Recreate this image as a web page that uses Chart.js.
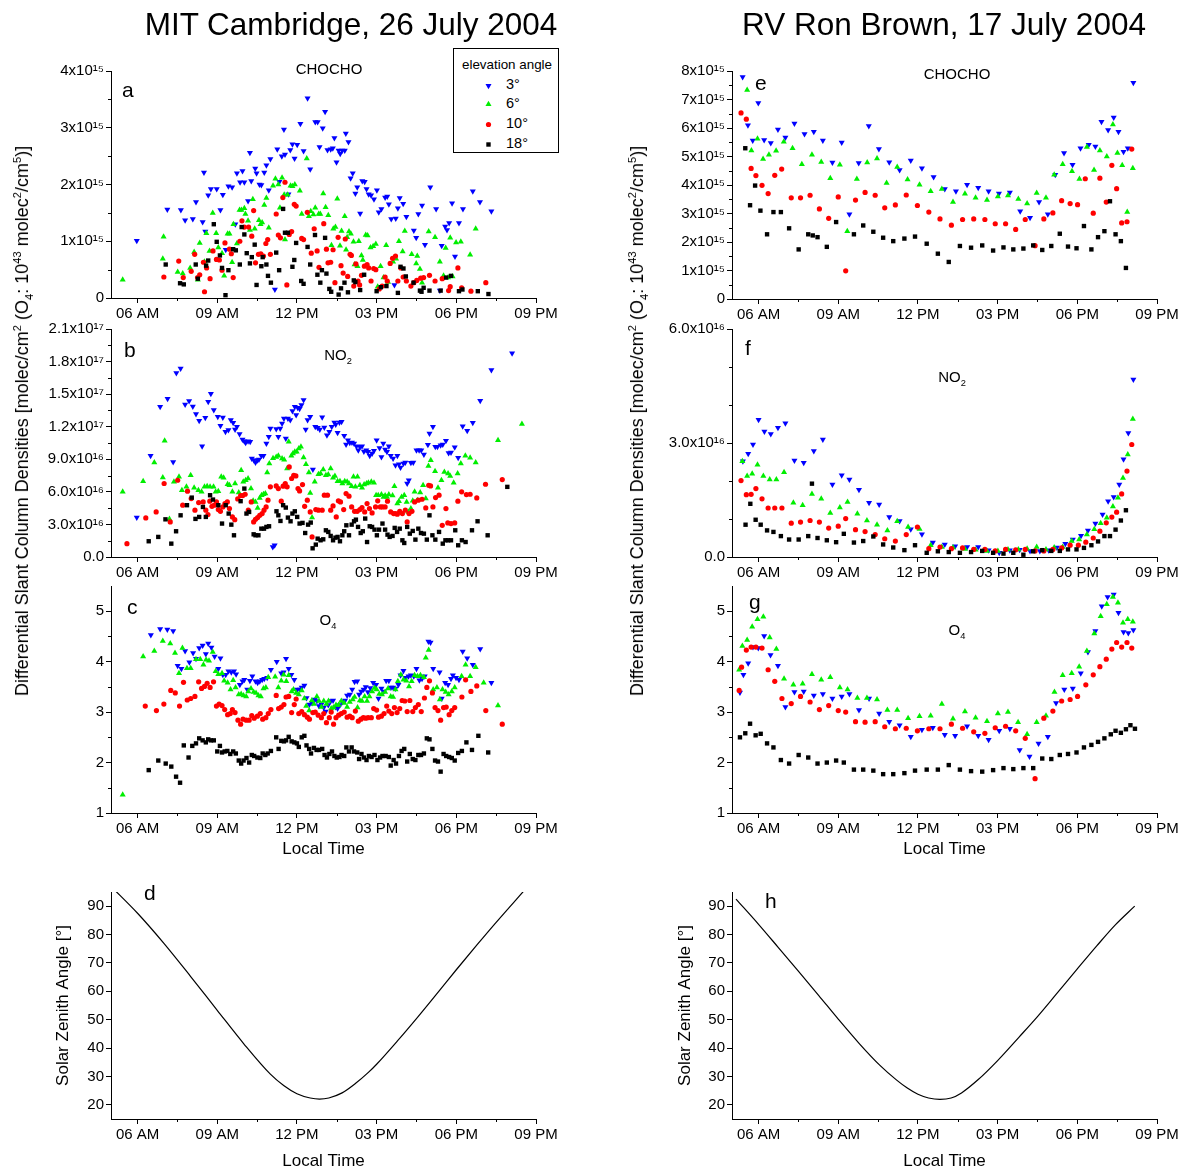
<!DOCTYPE html>
<html><head><meta charset="utf-8">
<script src="https://cdn.jsdelivr.net/npm/chart.js@4.4.1/dist/chart.umd.min.js"></script>
<style>
html,body{margin:0;padding:0;background:#fff;overflow:hidden;}
body{width:1182px;height:1168px;position:relative;font-family:"Liberation Sans",Arial,Helvetica,sans-serif;color:#000;}
canvas{position:absolute;}
.t{position:absolute;white-space:nowrap;line-height:1;}
.t sup,.t sub{font-size:62%;line-height:0;}
.rot{position:absolute;white-space:nowrap;line-height:1;transform:translate(-50%,-50%) rotate(-90deg);}
.rot sup,.rot sub{font-size:62%;line-height:0;}
</style></head><body>
<script>
// ---------- categories / tick labels ----------
const timeTicks = [6, 9, 12, 15, 18, 21];
const timeLabels = ['06 AM', '09 AM', '12 PM', '03 PM', '06 PM', '09 PM'];
const elevLabels = ['3°', '6°', '10°', '18°'];
const chochoMitTicks = [0, 1, 2, 3, 4];
const chochoMitLabels = ['0', '1x10¹⁵', '2x10¹⁵', '3x10¹⁵', '4x10¹⁵'];
const no2MitTicks = [0, 3, 6, 9, 12, 15, 18, 21];
const no2MitLabels = ['0.0', '3.0x10¹⁶', '6.0x10¹⁶', '9.0x10¹⁶', '1.2x10¹⁷', '1.5x10¹⁷', '1.8x10¹⁷', '2.1x10¹⁷'];
const o4Ticks = [1, 2, 3, 4, 5];
const o4Labels = ['1', '2', '3', '4', '5'];
const szaTicks = [20, 30, 40, 50, 60, 70, 80, 90];
const szaLabels = ['20', '30', '40', '50', '60', '70', '80', '90'];
const chochoRhbTicks = [0, 1, 2, 3, 4, 5, 6, 7, 8];
const chochoRhbLabels = ['0', '1x10¹⁵', '2x10¹⁵', '3x10¹⁵', '4x10¹⁵', '5x10¹⁵', '6x10¹⁵', '7x10¹⁵', '8x10¹⁵'];
const no2RhbTicks = [0, 3, 6];
const no2RhbLabels = ['0.0', '3.0x10¹⁶', '6.0x10¹⁶'];

// ---------- (a) CHOCHO, MIT, units 1e15 molec/cm2 ----------
const A3 = [[5.97,1.01],[7.12,1.56],[7.63,1.55],[7.79,1.37],[8.08,1.39],[8.2,1.69],[8.45,1.34],[8.5,2.21],[8.55,1.17],[8.66,1.81],[8.76,1.92],[8.98,1.92],[9.12,1.55],[9.21,1.82],[9.32,0.85],[9.42,1.97],[9.56,1.95],[9.68,1.3],[9.74,2.2],[9.86,2.04],[9.95,2.24],[10.02,2.04],[10.16,1.71],[10.23,2.56],[10.28,2.06],[10.43,2.28],[10.48,2.2],[10.59,2.0],[10.66,1.99],[10.77,2.21],[10.85,2.34],[10.94,1.9],[11.0,2.45],[11.17,0.15],[11.26,2.62],[11.34,2.05],[11.43,2.5],[11.51,2.97],[11.55,2.53],[11.68,1.83],[11.75,2.61],[11.83,2.71],[11.91,2.46],[12.01,2.7],[12.13,3.07],[12.25,2.59],[12.4,3.52],[12.5,2.27],[12.69,3.1],[12.78,3.1],[12.85,2.66],[12.97,2.99],[13.06,3.28],[13.15,2.61],[13.27,2.62],[13.35,2.64],[13.41,2.82],[13.49,2.39],[13.57,2.6],[13.63,2.54],[13.7,2.6],[13.8,2.6],[13.84,2.9],[13.94,2.75],[14.02,2.11],[14.1,2.2],[14.2,1.84],[14.27,1.95],[14.38,1.49],[14.46,2.06],[14.55,2.05],[14.62,1.92],[14.7,1.83],[14.79,1.81],[14.9,1.74],[15.01,1.9],[15.08,1.51],[15.18,1.57],[15.32,1.77],[15.4,1.79],[15.46,1.65],[15.55,1.39],[15.67,0.23],[15.72,1.4],[15.8,1.58],[15.87,1.76],[16.0,1.66],[16.12,1.43],[16.4,1.19],[16.49,1.06],[16.57,1.48],[16.71,1.63],[16.82,0.94],[17.02,1.95],[17.24,1.57],[17.38,0.13],[17.45,0.92],[17.58,1.26],[17.65,1.2],[17.73,1.32],[17.84,1.67],[17.95,0.73],[18.1,1.32],[18.25,1.57],[18.62,1.88],[18.89,1.69],[19.32,1.53]];
const A6 = [[5.44,0.32],[6.95,0.69],[6.98,1.08],[7.51,0.46],[7.7,0.43],[7.98,0.53],[8.13,0.81],[8.27,0.32],[8.34,0.97],[8.52,0.64],[8.59,1.14],[8.71,0.83],[8.83,1.5],[8.96,1.14],[9.04,0.89],[9.18,0.79],[9.26,0.39],[9.39,1.13],[9.46,1.13],[9.56,0.63],[9.61,1.3],[9.74,0.96],[9.84,1.55],[9.91,1.55],[10.02,1.58],[10.06,1.48],[10.16,1.36],[10.23,1.2],[10.34,1.74],[10.41,1.22],[10.57,1.37],[10.63,1.3],[10.69,1.33],[10.77,1.64],[10.85,1.76],[10.94,1.24],[11.1,1.98],[11.19,2.1],[11.3,2.0],[11.36,1.59],[11.44,2.12],[11.52,1.82],[11.55,1.03],[11.65,1.82],[11.76,1.98],[11.83,1.97],[11.92,2.0],[12.11,1.89],[12.18,1.48],[12.37,2.46],[12.45,1.44],[12.52,1.53],[12.62,1.47],[12.69,1.59],[12.82,1.48],[12.88,1.48],[12.99,1.84],[13.08,1.6],[13.18,1.46],[13.3,0.93],[13.37,1.22],[13.45,1.25],[13.52,1.75],[13.62,0.92],[13.68,1.18],[13.8,1.44],[13.85,0.85],[13.89,1.07],[13.96,1.17],[14.03,1.13],[14.13,0.99],[14.17,0.59],[14.28,0.56],[14.33,1.0],[14.43,0.75],[14.48,0.67],[14.59,1.11],[14.66,1.1],[14.77,0.89],[14.87,0.91],[14.97,0.95],[15.04,0.2],[15.15,0.56],[15.26,0.36],[15.36,0.93],[15.43,0.28],[15.62,0.64],[15.73,0.69],[15.84,1.0],[15.98,0.82],[16.06,1.18],[16.32,0.77],[16.49,0.61],[16.53,0.74],[16.63,0.51],[16.71,0.27],[16.96,1.17],[17.2,1.07],[17.38,0.64],[17.52,0.39],[17.6,0.88],[17.69,0.36],[17.77,1.06],[17.86,0.38],[17.99,0.98],[18.17,0.99],[18.52,0.76],[18.73,1.22]];
const A10 = [[6.99,0.37],[7.55,0.65],[7.72,0.36],[8.02,0.47],[8.15,0.77],[8.26,0.36],[8.34,0.41],[8.48,0.63],[8.52,0.11],[8.6,0.53],[8.73,0.34],[8.84,0.83],[8.97,0.68],[9.08,0.67],[9.18,0.49],[9.29,0.97],[9.46,0.86],[9.53,0.78],[9.6,0.36],[9.85,1.0],[9.93,1.36],[10.02,1.25],[10.18,1.25],[10.3,1.09],[10.37,1.54],[10.44,0.62],[10.55,0.77],[10.64,0.78],[10.74,0.74],[10.83,0.96],[10.9,1.03],[11.0,0.77],[11.22,1.48],[11.3,1.11],[11.38,1.06],[11.47,1.77],[11.55,2.04],[11.62,0.23],[11.71,1.12],[11.8,1.17],[11.9,1.65],[11.97,1.62],[12.18,1.05],[12.25,1.03],[12.39,1.51],[12.54,0.79],[12.65,1.22],[12.76,0.83],[12.83,0.54],[13.01,1.31],[13.11,0.86],[13.17,0.62],[13.27,0.63],[13.36,0.85],[13.43,0.27],[13.55,1.07],[13.66,0.57],[13.74,0.44],[13.82,1.04],[13.91,0.38],[14.0,0.77],[14.05,0.75],[14.14,0.21],[14.22,0.6],[14.3,0.3],[14.36,0.23],[14.43,0.4],[14.54,0.56],[14.64,0.59],[14.7,0.53],[14.79,0.3],[14.89,0.52],[14.97,0.5],[15.1,0.16],[15.21,0.21],[15.32,0.37],[15.4,0.3],[15.51,0.61],[15.6,0.7],[15.71,0.74],[15.8,0.3],[15.91,0.53],[16.0,0.37],[16.12,0.3],[16.29,0.21],[16.4,0.27],[16.51,0.31],[16.66,0.35],[16.77,0.36],[16.99,0.4],[17.2,0.3],[17.47,0.34],[17.71,0.13],[17.77,0.2],[18.06,0.53],[18.2,0.18],[18.55,0.12],[19.11,0.27]];
const A18 = [[7.06,0.59],[7.6,0.26],[7.74,0.24],[8.19,0.59],[8.27,0.34],[8.58,0.57],[8.66,0.66],[8.87,1.3],[8.98,0.99],[9.1,0.75],[9.18,0.53],[9.31,0.05],[9.42,0.49],[9.6,0.86],[9.7,0.84],[9.85,0.59],[9.92,1.25],[10.02,1.12],[10.11,0.79],[10.23,0.61],[10.3,0.72],[10.41,0.94],[10.48,0.23],[10.66,0.56],[10.71,0.72],[10.85,0.59],[10.91,0.39],[11.02,0.27],[11.22,0.8],[11.33,0.49],[11.48,1.57],[11.55,1.15],[11.66,1.15],[11.83,0.55],[11.9,0.67],[11.97,0.97],[12.16,0.3],[12.25,0.25],[12.4,0.9],[12.5,0.59],[12.68,1.11],[12.77,0.41],[12.88,0.27],[12.94,0.49],[13.06,1.06],[13.11,0.43],[13.22,0.16],[13.29,0.11],[13.57,0.06],[13.66,0.17],[13.79,0.27],[13.92,0.1],[14.14,0.31],[14.2,0.28],[14.38,0.14],[14.53,0.41],[15.0,0.12],[15.16,0.19],[15.37,0.21],[15.8,0.09],[15.9,0.55],[16.01,0.52],[16.1,0.38],[16.39,0.27],[16.63,0.13],[16.69,0.11],[16.77,0.18],[16.99,0.13],[17.41,0.13],[17.62,0.36],[17.8,0.39],[18.1,0.12],[18.23,0.15],[18.81,0.12],[19.21,0.07]];

// ---------- (b) NO2, MIT, units 1e16 molec/cm2 ----------
const B3 = [[5.97,3.63],[6.49,9.32],[6.85,13.84],[7.13,14.58],[7.34,8.76],[7.46,16.94],[7.62,17.37],[7.79,14.05],[7.94,14.36],[8.08,13.87],[8.2,13.16],[8.32,12.55],[8.43,10.21],[8.55,12.82],[8.66,14.3],[8.76,15.04],[8.87,13.53],[9.02,12.91],[9.12,12.08],[9.21,12.85],[9.31,11.53],[9.42,11.69],[9.51,12.61],[9.6,12.36],[9.67,11.75],[9.74,11.99],[9.84,11.32],[9.95,10.82],[10.02,10.67],[10.07,10.52],[10.16,10.67],[10.24,10.61],[10.3,9.07],[10.38,8.92],[10.44,8.7],[10.51,8.92],[10.57,8.98],[10.66,9.32],[10.74,9.32],[10.85,10.46],[10.94,11.07],[11.0,11.84],[11.09,0.92],[11.16,1.08],[11.22,11.78],[11.3,11.07],[11.37,11.84],[11.44,12.3],[11.51,12.76],[11.58,10.92],[11.66,12.76],[11.75,12.61],[11.83,13.44],[11.92,13.84],[11.97,13.07],[12.03,13.75],[12.1,13.65],[12.17,13.99],[12.25,14.45],[12.33,11.75],[12.4,12.61],[12.5,12.91],[12.6,8.06],[12.69,11.99],[12.78,11.9],[12.86,11.75],[12.95,12.88],[13.03,11.93],[13.13,11.22],[13.22,11.53],[13.31,11.99],[13.41,12.39],[13.46,12.21],[13.53,11.44],[13.6,12.39],[13.68,12.45],[13.78,11.16],[13.85,10.36],[13.92,10.76],[13.99,10.52],[14.07,10.55],[14.15,10.46],[14.24,10.21],[14.31,9.84],[14.37,10.15],[14.45,10.21],[14.52,9.72],[14.61,9.84],[14.68,9.69],[14.74,9.32],[14.83,9.53],[14.9,9.78],[15.0,10.76],[15.11,10.05],[15.18,9.22],[15.25,10.46],[15.32,9.9],[15.39,9.69],[15.46,10.21],[15.53,9.32],[15.62,9.07],[15.71,8.46],[15.78,9.32],[15.84,8.55],[15.9,8.24],[16.01,8.61],[16.08,8.7],[16.15,6.77],[16.21,7.07],[16.29,8.67],[16.38,8.7],[16.5,9.84],[16.6,9.84],[16.68,9.84],[16.78,9.44],[16.93,10.33],[16.99,11.38],[17.12,11.99],[17.21,10.15],[17.29,10.15],[17.41,10.3],[17.49,10.36],[17.61,10.7],[17.71,9.59],[17.8,9.63],[17.94,10.12],[18.07,9.13],[18.24,12.05],[18.41,11.62],[18.62,12.36],[18.9,14.39],[19.32,17.22],[20.1,18.76]];
const B6 = [[5.44,6.0],[6.21,6.98],[6.63,8.7],[6.95,7.32],[7.02,10.7],[7.2,3.51],[7.37,6.92],[7.56,7.38],[7.67,6.15],[7.84,6.46],[8.0,7.53],[8.13,6.37],[8.29,6.15],[8.41,6.0],[8.52,6.46],[8.62,6.52],[8.73,6.46],[8.86,6.46],[8.94,6.0],[9.04,6.06],[9.15,7.38],[9.24,7.29],[9.39,6.7],[9.46,6.61],[9.57,6.0],[9.67,6.77],[9.81,5.93],[9.9,8.0],[9.98,6.92],[10.07,7.07],[10.16,7.23],[10.27,6.3],[10.35,5.17],[10.44,5.07],[10.52,4.52],[10.6,5.44],[10.67,5.69],[10.74,5.78],[10.81,5.84],[10.88,7.78],[10.96,8.61],[11.1,9.1],[11.22,9.22],[11.3,9.32],[11.44,9.07],[11.52,8.95],[11.63,8.15],[11.69,10.61],[11.79,9.32],[11.85,9.53],[11.92,9.69],[11.99,9.69],[12.07,9.99],[12.15,10.15],[12.25,9.16],[12.34,8.55],[12.45,7.78],[12.5,5.9],[12.57,3.63],[12.67,6.92],[12.81,7.63],[12.89,7.69],[12.99,8.06],[13.09,7.53],[13.18,7.6],[13.27,8.15],[13.36,7.29],[13.43,7.47],[13.53,6.98],[13.62,6.98],[13.71,6.77],[13.8,6.98],[13.89,6.92],[13.96,6.77],[14.06,6.52],[14.13,7.38],[14.2,6.46],[14.28,7.38],[14.37,6.61],[14.45,6.37],[14.53,6.67],[14.62,6.77],[14.69,6.83],[14.8,6.92],[14.9,6.83],[14.98,5.69],[15.06,5.69],[15.18,5.75],[15.26,5.53],[15.32,5.66],[15.39,5.53],[15.46,5.75],[15.6,5.66],[15.67,6.52],[15.78,4.92],[15.84,5.14],[15.94,5.53],[16.04,5.69],[16.13,5.07],[16.2,4.15],[16.29,4.46],[16.36,5.17],[16.43,6.0],[16.53,5.23],[16.64,5.93],[16.75,6.61],[16.85,5.38],[16.95,8.39],[17.04,8.92],[17.2,7.9],[17.31,6.37],[17.44,7.07],[17.55,7.84],[17.69,7.69],[17.77,7.47],[17.9,6.83],[18.05,7.69],[18.17,8.61],[18.34,9.32],[18.52,9.13],[18.73,8.7],[19.57,10.76],[20.47,12.24]];
const B10 = [[5.6,1.23],[6.31,3.6],[6.7,4.15],[7.0,6.77],[7.23,3.23],[7.51,7.07],[7.7,4.77],[7.88,6.06],[8.02,5.38],[8.16,4.31],[8.3,5.01],[8.47,5.07],[8.57,4.31],[8.65,3.91],[8.72,5.14],[8.8,4.67],[8.89,4.77],[8.97,5.07],[9.04,4.37],[9.12,4.21],[9.21,4.61],[9.29,4.92],[9.38,5.07],[9.46,4.46],[9.57,3.69],[9.66,3.44],[9.77,5.35],[9.88,5.66],[9.96,5.66],[10.05,5.78],[10.17,4.31],[10.28,5.07],[10.37,3.23],[10.44,3.47],[10.52,3.63],[10.6,3.84],[10.69,4.0],[10.76,4.31],[10.84,4.61],[10.91,5.23],[11.0,6.46],[11.22,6.55],[11.3,6.3],[11.41,5.14],[11.48,6.52],[11.56,6.77],[11.63,6.46],[11.71,8.3],[11.8,7.23],[11.88,7.53],[11.96,7.47],[12.04,6.3],[12.1,6.09],[12.21,6.67],[12.29,4.67],[12.39,5.23],[12.5,4.15],[12.57,1.85],[12.71,4.37],[12.81,4.31],[12.95,4.31],[13.03,5.69],[13.15,5.69],[13.27,4.31],[13.36,4.7],[13.48,3.69],[13.56,5.17],[13.64,5.07],[13.76,4.37],[13.85,5.84],[13.96,5.6],[14.06,4.61],[14.17,4.21],[14.27,4.21],[14.37,4.37],[14.45,4.55],[14.55,4.15],[14.64,4.92],[14.73,4.46],[14.83,4.06],[14.96,4.61],[15.04,5.17],[15.14,4.61],[15.22,4.61],[15.32,4.61],[15.41,5.14],[15.53,4.15],[15.64,4.0],[15.71,4.0],[15.78,3.94],[15.87,4.21],[15.97,4.0],[16.08,4.31],[16.15,3.23],[16.22,4.0],[16.33,4.21],[16.43,5.07],[16.57,5.23],[16.71,5.32],[16.85,4.52],[16.96,6.61],[17.03,6.55],[17.12,4.61],[17.22,5.47],[17.35,5.69],[17.47,2.92],[17.61,4.46],[17.68,3.14],[17.8,3.08],[17.94,3.14],[18.06,5.14],[18.2,6.0],[18.38,5.75],[18.52,5.78],[18.77,5.44],[19.1,6.7],[19.73,7.13]];
const B18 = [[6.42,1.45],[6.78,1.85],[7.05,3.47],[7.27,1.23],[7.45,2.37],[7.62,3.84],[7.86,4.77],[8.04,5.47],[8.18,3.51],[8.32,3.69],[8.46,4.61],[8.57,3.69],[8.73,5.69],[8.84,5.29],[9.04,4.77],[9.18,3.08],[9.32,4.77],[9.43,4.0],[9.53,2.98],[9.63,2.0],[9.88,5.14],[10.02,6.3],[10.1,4.0],[10.2,4.15],[10.37,2.09],[10.44,2.0],[10.55,2.0],[10.66,2.61],[10.76,2.61],[10.85,2.77],[10.95,2.83],[11.23,4.21],[11.3,3.84],[11.38,3.32],[11.48,4.77],[11.58,4.55],[11.66,3.63],[11.76,3.29],[11.83,4.0],[11.92,4.21],[12.01,3.69],[12.1,3.08],[12.21,3.14],[12.31,2.21],[12.42,2.98],[12.52,3.17],[12.59,0.8],[12.71,1.14],[12.78,1.69],[12.89,1.54],[12.99,1.63],[13.09,2.46],[13.18,2.31],[13.27,1.94],[13.36,1.54],[13.45,1.78],[13.53,1.85],[13.62,1.45],[13.71,2.0],[13.78,2.37],[13.86,2.92],[13.96,2.0],[14.06,2.98],[14.15,3.29],[14.22,3.44],[14.3,2.77],[14.4,2.21],[14.48,2.37],[14.57,3.54],[14.64,1.38],[14.74,2.83],[14.83,2.77],[14.92,2.52],[15.01,2.0],[15.09,2.52],[15.22,3.08],[15.32,2.52],[15.41,2.06],[15.49,1.85],[15.6,1.94],[15.68,2.68],[15.77,2.31],[15.87,2.61],[15.97,1.54],[16.04,1.29],[16.15,2.77],[16.25,2.15],[16.36,2.4],[16.46,1.6],[16.57,2.61],[16.67,2.21],[16.78,2.15],[16.89,1.6],[16.99,3.84],[17.1,2.0],[17.21,1.6],[17.35,2.31],[17.49,1.23],[17.59,1.54],[17.69,1.54],[17.8,1.54],[17.96,2.46],[18.07,1.08],[18.21,1.54],[18.35,1.38],[18.59,2.46],[18.8,3.29],[19.18,2.0],[19.92,6.46]];

// ---------- (c) O4, MIT, units 1e43 molec2/cm5 ----------
const C3 = [[6.5,4.53],[6.85,4.65],[7.12,4.64],[7.34,4.61],[7.51,3.92],[7.65,3.86],[7.79,4.21],[7.95,3.99],[8.09,4.17],[8.2,4.06],[8.32,4.27],[8.45,4.32],[8.57,4.15],[8.66,4.36],[8.78,4.28],[8.9,4.1],[9.04,3.86],[9.12,4.07],[9.21,3.74],[9.32,3.74],[9.42,3.81],[9.53,3.79],[9.63,3.81],[9.71,3.75],[9.85,3.54],[9.95,3.61],[10.02,3.64],[10.13,3.45],[10.23,3.62],[10.32,3.71],[10.44,3.61],[10.52,3.58],[10.6,3.61],[10.69,3.64],[10.77,3.66],[10.88,3.68],[11.02,3.84],[11.24,4.0],[11.41,3.77],[11.5,3.79],[11.59,4.06],[11.69,3.86],[11.79,3.74],[11.9,3.64],[12.01,3.45],[12.11,3.45],[12.18,3.49],[12.28,3.53],[12.36,3.28],[12.47,3.15],[12.57,3.18],[12.67,3.25],[12.75,3.22],[12.83,3.12],[12.92,3.15],[13.01,3.09],[13.08,3.01],[13.18,3.14],[13.27,3.22],[13.36,3.23],[13.45,3.1],[13.53,3.07],[13.62,3.14],[13.71,3.2],[13.81,3.23],[13.89,3.33],[13.99,3.35],[14.08,3.45],[14.17,3.6],[14.27,3.61],[14.34,3.35],[14.42,3.41],[14.51,3.45],[14.59,3.5],[14.67,3.4],[14.76,3.48],[14.87,3.58],[14.98,3.54],[15.07,3.27],[15.18,3.47],[15.27,3.41],[15.36,3.62],[15.46,3.62],[15.54,3.49],[15.62,3.49],[15.71,3.47],[15.82,3.54],[15.9,3.73],[16.01,3.82],[16.1,3.68],[16.2,3.71],[16.29,3.73],[16.4,3.71],[16.5,3.86],[16.61,3.63],[16.71,3.66],[16.81,3.71],[16.95,4.4],[17.03,4.38],[17.13,3.86],[17.37,3.79],[17.45,3.27],[17.58,3.58],[17.69,3.54],[17.8,3.66],[17.87,3.73],[17.99,3.68],[18.1,3.64],[18.24,4.2],[18.41,4.07],[18.62,3.94],[18.9,4.25],[19.32,3.58]];
const C6 = [[5.44,1.36],[6.21,4.1],[6.63,4.21],[6.95,4.41],[7.23,4.36],[7.41,4.17],[7.56,3.77],[7.69,4.27],[7.86,3.87],[8.0,3.87],[8.2,4.05],[8.36,4.05],[8.48,3.94],[8.58,4.04],[8.69,4.02],[8.83,4.19],[8.94,3.81],[9.04,3.75],[9.18,3.77],[9.26,3.62],[9.39,3.58],[9.5,3.45],[9.6,3.63],[9.69,3.49],[9.81,3.35],[9.9,3.36],[9.99,3.33],[10.09,3.31],[10.17,3.41],[10.27,3.47],[10.37,3.4],[10.46,3.38],[10.55,3.33],[10.64,3.31],[10.74,3.47],[10.83,3.49],[10.92,3.69],[11.18,3.7],[11.3,3.49],[11.41,3.62],[11.5,3.74],[11.6,3.61],[11.69,3.73],[11.8,3.41],[11.87,3.45],[11.97,3.38],[12.07,3.35],[12.18,3.43],[12.28,3.27],[12.35,3.12],[12.46,3.03],[12.56,3.23],[12.64,3.16],[12.75,3.31],[12.83,3.22],[12.92,3.1],[13.01,3.22],[13.11,3.16],[13.19,3.22],[13.29,3.07],[13.38,3.09],[13.47,3.14],[13.57,3.14],[13.67,3.22],[13.78,3.18],[13.89,3.1],[13.99,3.2],[14.1,3.25],[14.17,3.3],[14.28,3.09],[14.37,3.23],[14.45,3.22],[14.55,3.31],[14.64,3.22],[14.73,3.31],[14.83,3.41],[14.92,3.48],[15.0,3.45],[15.1,3.36],[15.2,3.35],[15.32,3.4],[15.43,3.47],[15.53,3.31],[15.62,3.3],[15.71,3.45],[15.8,3.61],[15.91,3.74],[16.01,3.64],[16.12,3.62],[16.22,3.51],[16.32,3.61],[16.43,3.73],[16.54,3.71],[16.65,3.73],[16.78,3.69],[16.85,4.08],[16.96,4.23],[17.13,3.45],[17.27,3.49],[17.38,3.25],[17.48,3.45],[17.6,3.4],[17.71,3.35],[17.83,3.41],[17.94,3.49],[18.2,3.71],[18.35,3.94],[18.52,3.71],[18.73,3.89],[19.03,3.58],[19.57,3.13]];
const C10 = [[6.29,3.12],[6.71,3.03],[6.99,3.16],[7.25,3.43],[7.42,3.38],[7.58,3.12],[7.73,3.59],[7.87,3.24],[8.0,3.27],[8.16,3.31],[8.3,3.6],[8.41,3.47],[8.52,3.51],[8.62,3.57],[8.73,3.49],[8.86,3.6],[8.97,3.12],[9.07,3.16],[9.18,3.13],[9.28,3.05],[9.39,2.95],[9.49,2.97],[9.57,3.05],[9.67,2.99],[9.78,2.84],[9.88,2.76],[9.97,2.86],[10.09,2.84],[10.2,2.84],[10.3,2.93],[10.39,2.88],[10.51,2.92],[10.62,2.97],[10.71,2.86],[10.83,2.89],[10.92,2.97],[11.02,3.05],[11.22,3.33],[11.31,3.07],[11.41,3.1],[11.51,3.15],[11.59,3.3],[11.69,3.31],[11.8,2.99],[11.9,3.15],[11.97,3.26],[12.07,2.97],[12.18,3.01],[12.28,2.95],[12.39,2.9],[12.47,2.86],[12.6,2.99],[12.69,3.0],[12.8,2.94],[12.92,2.89],[13.01,2.97],[13.11,2.79],[13.22,2.89],[13.29,3.0],[13.38,2.76],[13.47,2.89],[13.57,2.94],[13.67,2.97],[13.78,3.0],[13.89,2.9],[13.99,2.92],[14.08,2.89],[14.2,3.02],[14.31,2.82],[14.41,2.86],[14.5,2.89],[14.59,2.88],[14.68,2.89],[14.8,2.89],[14.89,3.07],[15.0,3.04],[15.07,2.9],[15.18,2.92],[15.28,2.97],[15.38,3.12],[15.46,3.02],[15.57,2.97],[15.67,3.09],[15.77,2.99],[15.87,3.07],[15.96,3.23],[16.06,3.22],[16.15,3.01],[16.25,3.23],[16.36,3.01],[16.46,3.09],[16.57,3.15],[16.68,3.01],[16.8,3.28],[16.89,3.49],[16.99,3.62],[17.1,3.38],[17.2,3.09],[17.31,3.03],[17.41,2.84],[17.52,3.09],[17.62,3.1],[17.73,2.95],[17.83,3.03],[17.94,3.09],[18.21,3.3],[18.35,3.64],[18.55,3.41],[18.77,3.52],[19.11,3.03],[19.73,2.76]];
const C18 = [[6.42,1.85],[6.78,2.04],[7.06,1.98],[7.27,1.92],[7.45,1.72],[7.6,1.6],[7.74,2.34],[7.92,2.1],[8.06,2.33],[8.2,2.38],[8.32,2.48],[8.45,2.44],[8.57,2.4],[8.66,2.46],[8.76,2.44],[8.87,2.44],[9.0,2.22],[9.1,2.33],[9.18,2.2],[9.28,2.22],[9.38,2.23],[9.49,2.17],[9.6,2.22],[9.7,2.18],[9.81,2.04],[9.9,1.98],[9.99,2.04],[10.1,2.09],[10.2,2.0],[10.3,2.15],[10.39,2.13],[10.51,2.1],[10.62,2.09],[10.71,2.18],[10.81,2.15],[10.9,2.18],[11.02,2.23],[11.22,2.5],[11.31,2.27],[11.41,2.43],[11.51,2.42],[11.59,2.44],[11.69,2.51],[11.8,2.42],[11.9,2.4],[12.0,2.38],[12.07,2.31],[12.18,2.5],[12.28,2.53],[12.36,2.34],[12.46,2.27],[12.53,2.18],[12.64,2.29],[12.74,2.25],[12.83,2.25],[12.95,2.27],[13.04,2.15],[13.13,2.1],[13.22,2.17],[13.32,2.22],[13.41,2.13],[13.5,2.1],[13.6,2.11],[13.68,2.15],[13.78,2.13],[13.86,2.3],[13.96,2.22],[14.06,2.3],[14.15,2.22],[14.27,2.2],[14.34,2.07],[14.43,2.17],[14.52,2.1],[14.62,2.05],[14.71,2.13],[14.81,2.11],[14.92,2.15],[15.03,2.05],[15.13,2.1],[15.22,2.13],[15.34,2.13],[15.46,2.11],[15.53,1.94],[15.64,2.05],[15.73,1.98],[15.84,2.13],[15.94,2.23],[16.04,2.27],[16.15,2.02],[16.25,2.17],[16.36,2.07],[16.46,2.05],[16.57,2.15],[16.67,2.15],[16.78,2.18],[16.89,2.48],[16.99,2.46],[17.1,2.27],[17.2,2.04],[17.31,2.02],[17.41,1.82],[17.52,2.17],[17.62,2.13],[17.73,2.11],[17.83,2.09],[17.94,2.04],[18.07,2.19],[18.21,2.23],[18.38,2.4],[18.59,2.25],[18.83,2.53],[19.2,2.2]];

// ---------- (d) solar zenith angle, MIT (degrees) ----------
const SZA_MIT = [[5.05,96.5],[6,87.5],[7,76.8],[8,65.2],[9,53.3],[10,41.5],[11,30.8],[11.5,26.8],[12,23.9],[12.5,22.4],[12.85,22.0],[13.2,22.4],[13.7,24.2],[14.2,27.5],[14.7,31.5],[15.0,34.3],[15.8,42.7],[16.57,51.2],[17.34,60.0],[18.0,67.6],[18.8,76.6],[19.5,84.3],[20.62,96.2]];

// ---------- (e) CHOCHO, RV Ron Brown, units 1e15 ----------
const E3 = [[5.4,7.79],[5.6,6.1],[5.78,5.56],[5.99,6.88],[6.21,5.58],[6.46,5.47],[6.73,5.95],[7.01,5.67],[7.35,6.16],[7.73,5.79],[8.08,5.87],[8.42,5.56],[8.78,4.79],[9.13,5.49],[9.42,2.97],[9.77,4.77],[10.15,6.07],[10.53,5.26],[10.92,4.8],[11.31,4.53],[11.73,4.86],[12.15,4.59],[12.59,4.28],[13.01,3.86],[13.43,3.78],[13.85,4.01],[14.27,3.9],[14.66,3.78],[15.05,3.7],[15.46,3.74],[15.85,3.08],[16.22,2.85],[16.56,3.4],[16.89,2.97],[17.17,4.36],[17.5,5.12],[17.82,4.71],[18.12,5.29],[18.43,5.41],[18.68,5.35],[18.91,6.22],[19.16,5.93],[19.37,6.37],[19.55,5.87],[19.74,5.17],[19.9,5.29],[20.11,7.59]];
const E6 = [[5.57,7.33],[5.73,5.21],[5.96,5.62],[6.17,4.91],[6.39,5.06],[6.66,5.2],[6.95,5.52],[7.28,5.29],[7.63,4.73],[8.01,5.06],[8.36,4.81],[8.7,4.24],[9.06,4.71],[9.34,2.38],[9.7,4.21],[10.09,4.79],[10.46,4.93],[10.82,4.07],[11.22,4.63],[11.61,4.19],[12.06,4.01],[12.48,3.78],[12.9,3.86],[13.32,3.4],[13.77,3.69],[14.17,3.55],[14.6,3.47],[15.01,3.6],[15.39,3.63],[15.78,3.51],[16.11,3.35],[16.47,3.72],[16.82,3.55],[17.13,4.36],[17.45,4.73],[17.8,4.48],[18.08,4.21],[18.36,5.33],[18.63,4.53],[18.85,5.21],[19.11,5.0],[19.34,6.12],[19.51,5.12],[19.69,4.69],[19.88,3.05],[20.09,4.59]];
const E10 = [[5.34,6.53],[5.54,6.31],[5.72,4.58],[5.9,4.33],[6.13,3.99],[6.36,3.7],[6.61,4.34],[6.87,4.56],[7.23,3.55],[7.58,3.55],[7.94,3.64],[8.29,3.16],[8.64,2.83],[9.0,3.58],[9.28,0.99],[9.65,3.47],[10.01,3.74],[10.39,3.64],[10.75,3.2],[11.15,3.3],[11.56,3.65],[11.98,3.28],[12.41,3.05],[12.83,2.81],[13.26,2.59],[13.68,2.79],[14.1,2.81],[14.52,2.79],[14.91,2.64],[15.3,2.64],[15.68,2.44],[16.04,2.79],[16.41,1.87],[16.74,2.81],[17.08,3.02],[17.41,3.45],[17.73,3.35],[18.01,3.31],[18.3,4.22],[18.6,3.01],[18.85,4.24],[19.09,3.4],[19.3,4.69],[19.48,3.87],[19.67,2.67],[19.87,2.71],[20.05,5.26]];
const E18 = [[5.5,5.29],[5.68,3.29],[5.87,3.98],[6.07,3.1],[6.32,2.27],[6.56,3.05],[6.84,3.05],[7.15,2.48],[7.51,1.74],[7.87,2.27],[8.04,2.23],[8.22,2.17],[8.57,1.83],[8.92,2.7],[9.59,2.27],[9.94,2.58],[10.32,2.36],[10.69,2.15],[11.07,2.03],[11.49,2.12],[11.89,2.19],[12.33,1.94],[12.75,1.59],[13.16,1.3],[13.58,1.86],[14.0,1.8],[14.42,1.88],[14.83,1.7],[15.22,1.81],[15.59,1.74],[15.97,1.77],[16.34,1.88],[16.68,1.72],[17.02,1.86],[17.34,2.29],[17.65,1.84],[17.97,1.78],[18.25,2.56],[18.53,1.74],[18.78,2.17],[19.02,2.38],[19.23,3.43],[19.44,2.27],[19.64,2.03],[19.83,1.09]];

// ---------- (f) NO2, RV Ron Brown, units 1e16 ----------
const F3 = [[5.41,2.52],[5.61,2.72],[5.79,2.96],[6.0,3.61],[6.22,3.3],[6.46,3.24],[6.73,3.4],[7.01,3.52],[7.35,2.54],[7.7,2.48],[8.08,2.79],[8.42,3.09],[8.78,1.91],[9.13,2.15],[9.42,2.04],[9.78,1.77],[10.16,1.43],[10.54,1.38],[10.92,1.05],[11.31,0.95],[11.73,0.73],[12.15,0.6],[12.56,0.38],[13.01,0.33],[13.4,0.28],[13.85,0.26],[14.27,0.26],[14.66,0.18],[15.06,0.11],[15.46,0.18],[15.83,0.19],[16.22,0.16],[16.59,0.16],[16.92,0.18],[17.23,0.25],[17.55,0.35],[17.83,0.46],[18.14,0.56],[18.4,0.7],[18.68,0.88],[18.95,1.12],[19.16,1.47],[19.37,1.58],[19.58,1.91],[19.74,2.57],[19.92,3.26],[20.11,4.67]];
const F6 = [[5.39,2.52],[5.57,2.13],[5.76,2.19],[5.96,2.43],[6.18,2.13],[6.42,2.04],[6.67,2.04],[6.96,2.23],[7.31,1.43],[7.66,1.36],[8.01,1.66],[8.36,1.53],[8.7,1.16],[9.06,1.3],[9.35,1.45],[9.72,1.14],[10.08,0.96],[10.46,0.85],[10.85,0.7],[11.22,0.94],[11.63,0.79],[12.06,0.74],[12.48,0.31],[12.9,0.26],[13.32,0.25],[13.77,0.21],[14.17,0.19],[14.6,0.16],[15.01,0.16],[15.39,0.2],[15.78,0.2],[16.11,0.22],[16.47,0.26],[16.82,0.2],[17.13,0.25],[17.45,0.26],[17.79,0.42],[18.07,0.46],[18.36,0.59],[18.64,0.73],[18.88,0.89],[19.11,1.03],[19.34,1.33],[19.53,1.56],[19.72,2.08],[19.9,2.7],[20.09,3.63]];
const F10 = [[5.34,2.01],[5.54,1.64],[5.72,1.65],[5.9,1.8],[6.13,1.53],[6.36,1.29],[6.61,1.29],[6.88,1.29],[7.23,0.89],[7.58,0.92],[7.94,0.96],[8.29,0.92],[8.64,0.76],[9.0,0.81],[9.28,1.01],[9.65,0.72],[10.01,0.67],[10.39,0.59],[10.75,0.48],[11.15,0.42],[11.56,0.59],[11.98,0.79],[12.41,0.22],[12.83,0.26],[13.26,0.22],[13.68,0.24],[14.1,0.2],[14.52,0.2],[14.91,0.16],[15.3,0.2],[15.68,0.19],[16.04,0.2],[16.41,0.16],[16.74,0.16],[17.08,0.2],[17.41,0.24],[17.73,0.31],[18.04,0.31],[18.32,0.39],[18.6,0.5],[18.85,0.68],[19.09,0.9],[19.3,1.05],[19.48,1.18],[19.67,1.66],[19.87,2.26],[20.05,2.96]];
const F18 = [[5.51,0.85],[5.69,1.4],[5.89,0.98],[6.08,0.85],[6.32,0.7],[6.56,0.66],[6.84,0.55],[7.15,0.46],[7.51,0.46],[7.87,0.55],[8.01,1.93],[8.22,0.5],[8.57,0.44],[8.92,0.39],[9.21,0.61],[9.59,0.38],[9.94,0.42],[10.32,0.54],[10.69,0.33],[11.07,0.25],[11.49,0.18],[11.89,0.31],[12.33,0.11],[12.75,0.15],[13.16,0.13],[13.58,0.11],[14.0,0.13],[14.42,0.16],[14.83,0.11],[15.22,0.09],[15.59,0.11],[15.97,0.06],[16.34,0.15],[16.68,0.18],[17.02,0.16],[17.34,0.16],[17.65,0.2],[17.97,0.2],[18.25,0.24],[18.53,0.31],[18.78,0.41],[19.02,0.55],[19.23,0.55],[19.44,0.72],[19.64,0.96],[19.83,1.23]];

// ---------- (g) O4, RV Ron Brown, units 1e43 ----------
const G3 = [[5.3,3.39],[5.43,3.74],[5.61,3.97],[5.79,4.29],[5.99,4.27],[6.21,4.51],[6.45,4.13],[6.73,3.92],[7.01,3.1],[7.35,3.4],[7.7,3.41],[8.08,3.33],[8.42,3.36],[8.78,3.27],[9.13,3.31],[9.42,3.36],[9.78,3.04],[10.16,3.27],[10.54,2.97],[10.92,2.81],[11.31,2.74],[11.73,2.51],[12.15,2.65],[12.56,2.69],[13.01,2.55],[13.4,2.53],[13.85,2.72],[14.27,2.53],[14.66,2.45],[15.06,2.63],[15.46,2.67],[15.83,2.25],[16.2,2.12],[16.54,2.38],[16.89,2.51],[17.2,3.18],[17.51,3.45],[17.83,3.47],[18.13,3.77],[18.4,4.19],[18.68,4.61],[18.92,5.1],[19.14,5.28],[19.37,5.33],[19.55,4.97],[19.74,4.59],[19.92,4.57],[20.11,4.63]];
const G6 = [[5.27,3.84],[5.39,4.31],[5.57,4.43],[5.76,4.69],[5.96,4.84],[6.18,4.89],[6.42,4.48],[6.67,4.25],[6.96,3.66],[7.31,3.54],[7.66,3.56],[8.01,3.75],[8.36,3.64],[8.7,3.69],[9.06,3.49],[9.35,3.45],[9.72,3.28],[10.08,3.28],[10.46,3.25],[10.85,3.04],[11.22,3.04],[11.63,2.88],[12.06,2.92],[12.48,2.93],[12.9,3.16],[13.32,2.87],[13.77,3.01],[14.17,2.89],[14.6,2.82],[15.01,2.97],[15.39,3.0],[15.77,2.8],[16.11,2.56],[16.47,2.8],[16.82,2.93],[17.14,3.4],[17.45,3.73],[17.79,3.77],[18.07,3.9],[18.36,4.21],[18.64,4.56],[18.88,4.9],[19.11,5.14],[19.34,5.28],[19.53,5.17],[19.72,4.77],[19.9,4.84],[20.09,4.79]];
const G10 = [[5.27,3.43],[5.36,3.89],[5.54,4.23],[5.72,4.29],[5.9,4.29],[6.13,4.27],[6.36,3.84],[6.61,3.61],[6.88,3.27],[7.23,3.17],[7.58,3.31],[7.94,3.2],[8.29,3.05],[8.64,3.13],[9.0,3.03],[9.28,3.0],[9.65,2.81],[10.01,2.8],[10.39,2.81],[10.75,2.71],[11.15,2.67],[11.56,2.68],[11.98,2.63],[12.41,2.67],[12.83,2.67],[13.26,2.76],[13.68,2.68],[14.1,2.61],[14.52,2.58],[14.91,2.69],[15.3,2.72],[15.68,2.63],[16.04,2.48],[16.41,1.68],[16.74,2.88],[17.08,3.02],[17.41,3.22],[17.73,3.25],[18.01,3.31],[18.32,3.54],[18.6,3.74],[18.85,3.9],[19.09,4.05],[19.3,4.25],[19.48,4.38],[19.67,4.29],[19.87,4.38],[20.05,4.27]];
const G18 = [[5.3,2.5],[5.5,2.58],[5.68,2.77],[5.89,2.54],[6.08,2.57],[6.32,2.38],[6.56,2.3],[6.84,2.05],[7.15,1.98],[7.51,2.15],[7.87,2.1],[8.22,1.98],[8.57,2.0],[8.92,2.04],[9.21,2.0],[9.59,1.86],[9.94,1.86],[10.32,1.84],[10.69,1.77],[11.07,1.77],[11.49,1.79],[11.89,1.84],[12.33,1.86],[12.75,1.86],[13.16,1.95],[13.58,1.86],[14.0,1.83],[14.42,1.82],[14.83,1.85],[15.22,1.89],[15.59,1.87],[15.97,1.89],[16.34,1.89],[16.68,2.08],[17.02,2.07],[17.34,2.15],[17.65,2.17],[17.97,2.2],[18.25,2.3],[18.53,2.35],[18.78,2.41],[19.02,2.48],[19.26,2.56],[19.44,2.63],[19.64,2.59],[19.83,2.66],[20.0,2.74],[20.17,2.67]];

// ---------- (h) solar zenith angle, RV Ron Brown (degrees) ----------
const SZA_RHB = [[5.15,92.5],[6,83.6],[6.73,75.6],[7.49,67.2],[8.26,58.6],[9,50.2],[9.8,41.5],[10.57,33.9],[11.2,28.7],[11.6,25.9],[12,23.7],[12.4,22.4],[12.83,21.9],[13.25,22.4],[13.64,24.2],[14.27,28.9],[15,35.6],[15.8,43.8],[16.5,51.1],[17.2,58.9],[18,67.9],[18.74,76.1],[19.44,83.5],[20.16,90.0]];

// ================= drawing =================
const FONT = '"Liberation Sans", Arial, Helvetica, sans-serif';
Chart.defaults.font.family = FONT;
Chart.defaults.color = '#000';

const STY = [
  {style: 'triangle', rot: 180, r: 3.5, color: '#0000ff'},
  {style: 'triangle', rot: 0, r: 3.5, color: '#00ee00'},
  {style: 'circle', rot: 0, r: 2.6, color: '#ff0000'},
  {style: 'rect', rot: 0, r: 3.1, color: '#000000'}
];

const minorTicksPlugin = {
  id: 'minorTicks',
  afterDraw(chart, args, opts) {
    const {ctx, chartArea, scales} = chart;
    ctx.save();
    ctx.strokeStyle = '#000';
    ctx.lineWidth = 1;
    ctx.beginPath();
    (opts.x || []).forEach(v => {
      const px = Math.round(scales.x.getPixelForValue(v)) + 0.5;
      ctx.moveTo(px, Math.round(chartArea.bottom));
      ctx.lineTo(px, Math.round(chartArea.bottom) + 3);
    });
    (opts.y || []).forEach(v => {
      const py = Math.round(scales.y.getPixelForValue(v)) + 0.5;
      ctx.moveTo(Math.round(chartArea.left), py);
      ctx.lineTo(Math.round(chartArea.left) - 3, py);
    });
    ctx.stroke();
    ctx.restore();
  }
};

function panel(p) {
  const cv = document.createElement('canvas');
  cv.width = p.box[2];
  cv.height = p.box[3];
  cv.style.left = p.box[0] + 'px';
  cv.style.top = p.box[1] + 'px';
  cv.style.width = p.box[2] + 'px';
  cv.style.height = p.box[3] + 'px';
  document.body.appendChild(cv);
  let datasets;
  if (p.line) {
    datasets = [{
      label: 'SZA',
      data: p.line.map(([t, v]) => ({x: t, y: v})),
      showLine: true, borderColor: '#000', borderWidth: 1.2,
      pointRadius: 0, cubicInterpolationMode: 'monotone', fill: false
    }];
  } else {
    datasets = p.series.map((arr, i) => ({
      label: elevLabels[i],
      data: arr.map(([t, v]) => ({x: t, y: v})),
      pointStyle: STY[i].style,
      pointRotation: STY[i].rot,
      pointRadius: STY[i].r,
      pointBackgroundColor: STY[i].color,
      pointBorderColor: STY[i].color,
      backgroundColor: STY[i].color,
      borderColor: STY[i].color,
      pointBorderWidth: 0,
      showLine: false,
      clip: false,
      order: 4 - i
    }));
  }
  const axisGrid = {display: true, drawOnChartArea: false, drawTicks: true, tickLength: 5, color: '#000', lineWidth: 1};
  new Chart(cv, {
    type: 'scatter',
    data: {datasets},
    options: {
      responsive: false, animation: false, devicePixelRatio: 1,
      layout: {padding: {top: p.pad[0], right: p.pad[1], left: 0, bottom: 0}},
      plugins: {legend: {display: false}, tooltip: {enabled: false},
        minorTicks: {x: [7.5, 10.5, 13.5, 16.5, 19.5], y: p.y.minor || []}},
      scales: {
        x: {
          type: 'linear', min: 5, max: 21,
          afterBuildTicks: s => { s.ticks = timeTicks.map(v => ({value: v})); },
          afterFit: s => { s.height = p.xH; },
          ticks: {callback: v => timeLabels[timeTicks.indexOf(v)], font: {size: 15}, color: '#000', padding: 2, maxRotation: 0, autoSkip: false},
          grid: axisGrid,
          border: {display: true, color: '#000', width: 1},
          title: p.xTitle ? {display: true, text: p.xTitle, font: {size: 17}, color: '#000', padding: {top: 0, bottom: 0}} : {display: false}
        },
        y: {
          type: 'linear', min: p.y.min, max: p.y.max,
          afterBuildTicks: s => { s.ticks = p.y.ticks.map(v => ({value: v})); },
          afterFit: s => { s.width = p.yW; },
          ticks: {callback: v => p.y.labels[p.y.ticks.indexOf(v)], font: {size: 15}, color: '#000', padding: 2, autoSkip: false},
          grid: axisGrid,
          border: {display: true, color: '#000', width: 1},
          title: p.yTitle ? {display: true, text: p.yTitle, font: {size: 17}, color: '#000', padding: {top: 0, bottom: 0}} : {display: false}
        }
      }
    },
    plugins: [minorTicksPlugin]
  });
}

const half = a => a.slice(0, -1).map((v, i) => (v + a[i + 1]) / 2);

panel({box: [0, 40, 580, 288], pad: [31, 44], yW: 111, xH: 30,
  y: {min: 0, max: 4, ticks: chochoMitTicks, labels: chochoMitLabels, minor: half(chochoMitTicks)},
  series: [A3, A6, A10, A18]});
panel({box: [0, 318, 580, 269], pad: [11, 44], yW: 111, xH: 30,
  y: {min: 0, max: 21, ticks: no2MitTicks, labels: no2MitLabels, minor: half(no2MitTicks)},
  series: [B3, B6, B10, B18]});
panel({box: [0, 575, 580, 285], pad: [10, 44], yW: 111, xH: 47, xTitle: 'Local Time',
  y: {min: 1, max: 5.5, ticks: o4Ticks, labels: o4Labels, minor: half(o4Ticks)},
  series: [C3, C6, C10, C18]});
panel({box: [53, 881, 527, 291], pad: [10, 44], yW: 58, xH: 53, xTitle: 'Local Time', yTitle: 'Solar Zenith Angle [°]',
  y: {min: 15, max: 95, ticks: szaTicks, labels: szaLabels, minor: []},
  line: SZA_MIT});

panel({box: [640, 40, 542, 289], pad: [31, 25], yW: 92, xH: 30,
  y: {min: 0, max: 8, ticks: chochoRhbTicks, labels: chochoRhbLabels, minor: half(chochoRhbTicks)},
  series: [E3, E6, E10, E18]});
panel({box: [640, 318, 542, 269], pad: [10, 25], yW: 92, xH: 30,
  y: {min: 0, max: 6, ticks: no2RhbTicks, labels: no2RhbLabels, minor: [1, 2, 4, 5]},
  series: [F3, F6, F10, F18]});
panel({box: [640, 575, 542, 285], pad: [10, 25], yW: 92, xH: 47, xTitle: 'Local Time',
  y: {min: 1, max: 5.5, ticks: o4Ticks, labels: o4Labels, minor: half(o4Ticks)},
  series: [G3, G6, G10, G18]});
panel({box: [675, 881, 507, 291], pad: [10, 25], yW: 57, xH: 53, xTitle: 'Local Time', yTitle: 'Solar Zenith Angle [°]',
  y: {min: 15, max: 95, ticks: szaTicks, labels: szaLabels, minor: []},
  line: SZA_RHB});

// ---------- text (HTML) ----------
function txt(html, x, baseline, fs, align) {
  const d = document.createElement('div');
  d.className = 't';
  d.style.fontSize = fs + 'px';
  d.innerHTML = html;
  d.style.top = (baseline - 0.8465 * fs) + 'px';
  d.style.left = x + 'px';
  if (align === 'center') d.style.transform = 'translateX(-50%)';
  document.body.appendChild(d);
}
function rot(html, cx, cy, fs) {
  const d = document.createElement('div');
  d.className = 'rot';
  d.style.fontSize = fs + 'px';
  d.style.left = cx + 'px';
  d.style.top = cy + 'px';
  d.innerHTML = html;
  document.body.appendChild(d);
}

txt('MIT Cambridge, 26 July 2004', 351, 36, 31.5, 'center');
txt('RV Ron Brown, 17 July 2004', 944, 36, 31.5, 'center');
const yTitle = 'Differential Slant Column Densities [molec/cm<sup>2</sup> (O<sub>4</sub>: 10<sup>43</sup> molec<sup>2</sup>/cm<sup>5</sup>)]';
rot(yTitle, 22, 421, 18);
rot(yTitle, 637, 421, 18);

txt('CHOCHO', 329, 73.5, 15, 'center');
txt('CHOCHO', 957, 79, 15, 'center');
txt('NO<sub>2</sub>', 338, 360, 15, 'center');
txt('NO<sub>2</sub>', 952, 382, 15, 'center');
txt('O<sub>4</sub>', 328, 625, 15, 'center');
txt('O<sub>4</sub>', 957, 635, 15, 'center');

txt('a', 122, 97, 21); txt('b', 124, 357, 21); txt('c', 127, 614, 21); txt('d', 144, 900, 21);
txt('e', 755, 90, 21); txt('f', 745, 355, 21); txt('g', 749, 609, 21); txt('h', 765, 908, 21);

// ---------- legend (elevation angle) ----------
const lg = document.createElement('div');
lg.style.cssText = 'position:absolute;left:453px;top:48px;width:104px;height:103px;border:1.5px solid #000;background:#fff;';
document.body.appendChild(lg);
txt('elevation angle', 507, 69.5, 13.4, 'center');
const svgNS = 'http://www.w3.org/2000/svg';
const svg = document.createElementNS(svgNS, 'svg');
svg.setAttribute('width', '30'); svg.setAttribute('height', '80');
svg.style.cssText = 'position:absolute;left:474px;top:75px;';
const legY = [10.7, 29.3, 49.5, 69.5];
STY.forEach((s, i) => {
  const cy = legY[i], cx = 14.5, r = s.r;
  let el;
  if (s.style === 'triangle') {
    el = document.createElementNS(svgNS, 'polygon');
    const k = s.rot === 180 ? -1 : 1;
    const pts = [[cx, cy - k * r], [cx - r * 0.866, cy + k * r / 2], [cx + r * 0.866, cy + k * r / 2]];
    el.setAttribute('points', pts.map(p => p.join(',')).join(' '));
  } else if (s.style === 'circle') {
    el = document.createElementNS(svgNS, 'circle');
    el.setAttribute('cx', cx); el.setAttribute('cy', cy); el.setAttribute('r', r);
  } else {
    el = document.createElementNS(svgNS, 'rect');
    const h = r * Math.SQRT1_2;
    el.setAttribute('x', cx - h); el.setAttribute('y', cy - h);
    el.setAttribute('width', 2 * h); el.setAttribute('height', 2 * h);
  }
  el.setAttribute('fill', s.color);
  svg.appendChild(el);
  txt(elevLabels[i], 506, [89.3, 108.5, 128.7, 148.3][i], 14.5);
});
document.body.appendChild(svg);
</script>
</body></html>
